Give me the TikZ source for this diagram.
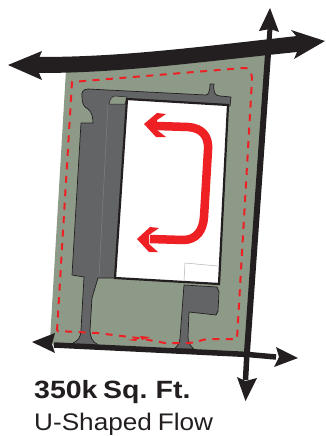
\documentclass[tikz,border=0pt]{standalone}
\usepackage{fontspec}
\setmainfont{Liberation Sans}
\newfontfamily\titlefont[FakeStretch=1.14,WordSpace=0.7]{Liberation Sans}
\newfontfamily\subfont[FakeStretch=1.09,WordSpace=0.8]{Liberation Sans}
\usetikzlibrary{arrows.meta}
\definecolor{site}{HTML}{8E9A88}
\definecolor{ink}{HTML}{231F20}
\definecolor{dock}{HTML}{636466}
\definecolor{flow}{HTML}{EE2024}
\tikzset{
  x=1pt,y=-1pt,
  dockshape/.style={fill=dock,draw=ink,line width=0.7pt,line join=round},
  boundary/.style={draw=flow,line width=2pt,dash pattern=on 7pt off 6.5pt},
  flowline/.style={draw=flow,line width=8.5pt,line cap=butt},
}
\begin{document}
\begin{tikzpicture}
\useasboundingbox (0,0) rectangle (325,436);
% site
\fill[site] (66,70) -- (268,52) -- (247,355) -- (54,346) -- (50,340) -- cycle;
% dock and truck court
\path[dockshape] (88,89) .. controls (83,89) and (81,93) .. (82,97)
  .. controls (82,104) and (84,107) .. (88,109)
  .. controls (92,112) and (93,118) .. (93,123) -- (81,123) -- (72,275) -- (84,277)
  -- (81,330) .. controls (81,337) and (78,341) .. (73,343) -- (73,346) -- (97,347) -- (97,344)
  .. controls (92,342) and (90,336) .. (90,330) -- (92,298) -- (98,278) -- (115,278)
  -- (127,100) -- (230,106) -- (231,97) -- (220,96)
  .. controls (215,96) and (213,92) .. (214,84) -- (210,84)
  .. controls (210,92) and (208,95) .. (206,95) -- cycle;
\path[fill=site,draw=ink,line width=0.5pt] (109,104) .. controls (110,99) and (112,96) .. (115,96) -- (127,97) -- (125,104) -- cycle;
\draw[gray,line width=0.5pt] (108,104) -- (99,277);
\path[dockshape] (184,285) -- (217,287) -- (219,292) -- (218,311) -- (216,315) -- (189,312)
  -- (188,337) .. controls (188,342) and (190,346) .. (194,349) -- (174,349)
  .. controls (178,346) and (180,342) .. (180,338) -- cycle;
% building
\path[fill=white,draw=ink,line width=2.2pt,line join=miter] (127,99) -- (228,105) -- (219,284) -- (115,278) -- cycle;
\draw[gray!60,line width=0.5pt] (184,281) -- (185,263) -- (218,266);
% boundary
\draw[boundary] (57,331) -- (72,82) -- (243,68) .. controls (249,67) and (252,72) .. (252,80)
  -- (237,339) -- (215,339) .. controls (205,339) and (200,340) .. (198,342) -- (188,343)
  -- (165,343) -- (138,338) -- (97,333) -- cycle;
\fill[flow] (128,340) -- (138,338) -- (136,341) -- cycle;
\fill[flow] (140,336) -- (150,337) -- (142,340) -- cycle;
% flow arrow
\draw[flowline] (157,126) -- (188,127) .. controls (202,128) and (209,136) .. (208,150)
  -- (204,217) .. controls (203,231) and (196,240) .. (183,240) -- (150,239);
\fill[flow] (144,124) -- (157,113) -- (166,114) -- (157,120) -- (157,130) -- (166,137) -- (156,137) -- cycle;
\fill[flow] (137,239) -- (150,227) -- (159,228) -- (149,235) -- (149,244) -- (158,252) -- (149,252) -- cycle;
% roads
\draw[ink,line width=6pt] (268,54) -- (247,352);
\draw[ink,line width=5pt] (270,28) -- (268,56);
\draw[ink,line width=5.5pt] (247,352) -- (245.5,380);
\draw[ink,line width=5.5pt] (54,345) -- (248,354.5) -- (276,357);
\fill[ink] (39,57) .. controls (120,57) and (190,48) .. (297,36) -- (297,52) .. controls (190,63) and (120,73) .. (39,73) -- cycle;
\fill[ink] (8,65) -- (42,51) -- (39,58) -- (39,73) -- (42,80) -- cycle;
\fill[ink] (325,41) -- (291,30) -- (297,37) -- (297,52) -- (294,59) -- cycle;
\fill[ink] (270,8) -- (259,31) -- (270,29) -- (279,32) -- cycle;
\fill[ink] (245.5,401) -- (237,377) -- (245.5,381) -- (257,378) -- cycle;
\fill[ink] (32,342) -- (55,333) -- (52,344) -- (55,353) -- cycle;
\fill[ink] (298,358) -- (276,347) -- (279,357) -- (274,367) -- cycle;
% text
\node[anchor=base west,inner sep=0pt,font=\titlefont\bfseries\fontsize{25}{28}\selectfont,text=ink] (title) at (34,398) {350k Sq. Ft.};
\node[anchor=base west,inner sep=0pt,font=\subfont\fontsize{24}{28}\selectfont,text=ink] (sub) at (34,430.5) {U-Shaped Flow};
\end{tikzpicture}
\end{document}
